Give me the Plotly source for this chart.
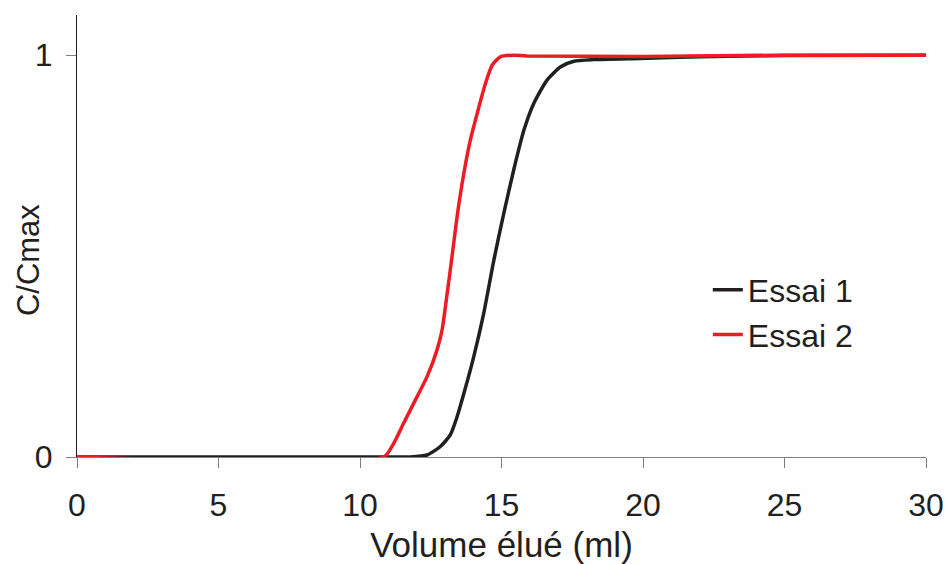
import plotly.graph_objects as go

# Essai 1 (black)
essai1_x = [0, 11.0, 11.78, 12.37, 12.84, 13.19, 13.43, 13.67, 14.02, 14.37, 14.73, 15.08,
            15.43, 15.79, 16.14, 16.61, 17.09, 17.56, 18.26, 19.9, 22, 25, 30]
essai1_y = [0, 0, 0, 0.005, 0.026, 0.055, 0.10, 0.158, 0.25, 0.357, 0.49, 0.606,
            0.714, 0.813, 0.88, 0.938, 0.971, 0.985, 0.989, 0.992, 0.996, 0.999, 1.0]

# Essai 2 (red)
essai2_x = [0, 10.84, 11.19, 11.54, 11.90, 12.37, 12.72, 12.90, 13.08, 13.25, 13.43, 13.67,
            13.90, 14.14, 14.43, 14.67, 14.96, 15.43, 15.9, 20, 25, 30]
essai2_y = [0, 0, 0.034, 0.084, 0.134, 0.20, 0.266, 0.316, 0.407, 0.498, 0.598, 0.706,
            0.789, 0.855, 0.929, 0.975, 0.996, 1.0, 0.998, 0.997, 1.0, 1.0]

x_ticks = [0, 5, 10, 15, 20, 25, 30]
y_ticks = [0, 1]

FONT = "Liberation Sans, Arial, sans-serif"
TXT = "#231F20"

fig = go.Figure()
fig.add_trace(go.Scatter(x=essai1_x, y=essai1_y, mode="lines", name="Essai 1",
                         legendgroup="a",
                         line=dict(color="#231F20", width=3.5, shape="spline", smoothing=0.6)))
fig.add_trace(go.Scatter(x=essai2_x, y=essai2_y, mode="lines", name="Essai 2",
                         legendgroup="b",
                         line=dict(color="#ED1C24", width=3.5, shape="spline", smoothing=0.6)))

fig.update_layout(
    width=945, height=564,
    margin=dict(l=77, r=19, t=15, b=107),
    paper_bgcolor="white", plot_bgcolor="white",
    font=dict(family=FONT, color=TXT, size=32),
    showlegend=True,
    legend=dict(x=0.743, y=0.44, xanchor="left", yanchor="top",
                bgcolor="rgba(0,0,0,0)", font=dict(size=32, color=TXT),
                tracegroupgap=0, itemwidth=30),
    xaxis=dict(range=[0, 30], tickvals=x_ticks, ticks="outside", ticklen=10,
               tickcolor="#7f7f7f", showline=True, linecolor="#7f7f7f", linewidth=1,
               showgrid=False, zeroline=False, tickfont=dict(size=32, color=TXT),
               automargin=False, ticklabelstandoff=10,
               title=dict(text="Volume élué (ml)", font=dict(size=35, color=TXT), standoff=11)),
    yaxis=dict(range=[0, 1.1], tickvals=y_ticks, ticks="outside", ticklen=10,
               tickcolor="#7f7f7f", showline=True, linecolor="#231F20", linewidth=1,
               showgrid=False, zeroline=False, tickfont=dict(size=32, color=TXT),
               automargin=False, ticklabelstandoff=7),
    annotations=[dict(text="C/Cmax", textangle=-90, xref="paper", yref="y",
                      x=-0.0577, y=0.49, xanchor="center", yanchor="middle",
                      showarrow=False, font=dict(size=31, color=TXT))],
)

fig.write_html("out.html",
               config={"displayModeBar": False},
               post_script="document.body.style.margin='0';document.body.style.overflow='hidden';")
